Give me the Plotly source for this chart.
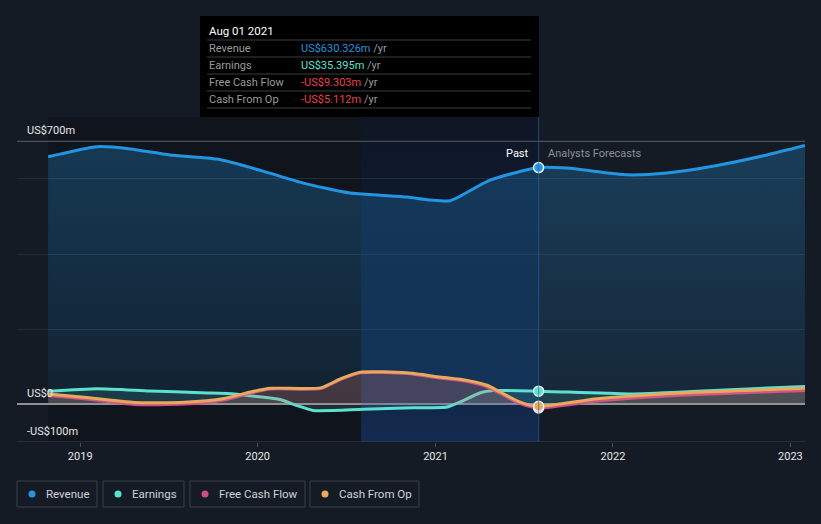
import plotly.graph_objects as go

# ---------------- data ----------------
rev_dates = ["2018-10-27", "2019-02-05", "2019-04-14", "2019-07-05", "2019-10-10",
             "2020-01-12", "2020-04-04", "2020-07-09", "2020-09-09", "2020-11-03",
             "2020-12-21", "2021-01-31", "2021-04-23", "2021-08-01", "2021-09-28",
             "2022-01-30", "2022-04-22", "2022-08-03", "2022-11-14", "2023-01-31"]
rev_vals = [659, 686, 680, 664, 653, 621, 589, 563, 557, 552,
            544, 542, 597, 630.326, 629, 611, 616, 636, 664, 689]

earn_dates = ["2018-10-27", "2019-02-05", "2019-05-24", "2019-09-07", "2019-11-15",
              "2019-12-31", "2020-02-16", "2020-03-22", "2020-04-24", "2020-08-05",
              "2020-11-16", "2021-01-25", "2021-02-20", "2021-04-03", "2021-04-29",
              "2021-08-01", "2022-02-05", "2022-06-23", "2023-01-31"]
earn_vals = [35, 42, 36, 31, 28, 21, 13, -3, -16, -13,
             -9, -7, 6, 31, 37, 35.395, 28, 35, 48]

cf_dates = ["2018-10-27", "2019-01-09", "2019-04-22", "2019-08-03", "2019-10-24",
            "2019-12-17", "2020-01-27", "2020-05-09", "2020-06-19", "2020-07-30",
            "2020-11-03", "2021-01-10", "2021-03-07", "2021-04-17", "2021-05-14",
            "2021-06-24", "2021-08-01", "2021-11-29", "2022-04-14", "2023-01-31"]
cfo_vals = [28, 19, 5, 6, 16, 33, 43, 44, 68, 86,
            84, 73, 64, 51, 33, 6, -5.112, 15, 28, 43]
fcf_vals = [24, 15, 0, 1, 12, 30, 41, 42, 66, 84,
            82, 70, 61, 47, 29, 2, -9.303, 9, 22, 37]

year_ticks = ["2019-01-01", "2020-01-01", "2021-01-01", "2022-01-01", "2023-01-01"]
year_labels = ["2019", "2020", "2021", "2022", "2023"]

data_start = "2018-10-27"
past_end = "2021-08-01"
last_year_start = "2020-08-01"
x_range = ["2018-08-24", "2023-01-31"]
y_range = [-100, 765]

tooltip_title = "Aug 01 2021"
tooltip_rows = [("Revenue", "US$630.326m", "#2394df"),
                ("Earnings", "US$35.395m", "#5fe3cf"),
                ("Free Cash Flow", "-US$9.303m", "#e8414a"),
                ("Cash From Op", "-US$5.112m", "#e8414a")]

legend_items = [("Revenue", "#2394df"), ("Earnings", "#5ce0cf"),
                ("Free Cash Flow", "#cf4a8a"), ("Cash From Op", "#e8a95c")]

# ---------------- colours ----------------
BG = "#151b25"
C_REV = "#2394df"
C_EARN = "#5ce0cf"
C_FCF = "#cf4a8a"
C_CFO = "#e8a95c"
FONT = "Roboto"

W, H = 821, 524
ML, MR, MT, MB = 17, 16, 117, 82
PW, PH = W - ML - MR, H - MT - MB


def px(xp):
    return (xp - ML) / PW


def py(yp):
    return (H - MB - yp) / PH


fig = go.Figure()

# last-year highlight (gradient)
fig.add_trace(go.Scatter(
    x=[last_year_start, past_end, past_end, last_year_start, last_year_start],
    y=[y_range[0], y_range[0], y_range[1], y_range[1], y_range[0]],
    mode="lines", line=dict(width=0), fill="toself",
    fillgradient=dict(type="vertical",
                      colorscale=[[0, "rgba(25,95,200,0.30)"], [1, "rgba(5,30,90,0.14)"]]),
    hoverinfo="skip", showlegend=False))

# revenue
fig.add_trace(go.Scatter(
    x=rev_dates, y=rev_vals, mode="lines",
    line=dict(color=C_REV, width=3, shape="spline", smoothing=0.6),
    fill="tozeroy",
    fillgradient=dict(type="vertical",
                      colorscale=[[0, "rgba(35,148,223,0.10)"], [1, "rgba(35,148,223,0.28)"]]),
    hoverinfo="skip", showlegend=False))

# earnings
fig.add_trace(go.Scatter(
    x=earn_dates, y=earn_vals, mode="lines",
    line=dict(color=C_EARN, width=3, shape="spline", smoothing=0.6),
    fill="tozeroy", fillcolor="rgba(92,224,207,0.13)",
    hoverinfo="skip", showlegend=False))

# free cash flow
fig.add_trace(go.Scatter(
    x=cf_dates, y=fcf_vals, mode="lines",
    line=dict(color=C_FCF, width=3, shape="spline", smoothing=0.6),
    fill="tozeroy", fillcolor="rgba(207,74,138,0.13)",
    hoverinfo="skip", showlegend=False))

# cash from op
fig.add_trace(go.Scatter(
    x=cf_dates, y=cfo_vals, mode="lines",
    line=dict(color=C_CFO, width=3, shape="spline", smoothing=0.6),
    fill="tozeroy", fillcolor="rgba(232,169,92,0.13)",
    hoverinfo="skip", showlegend=False))

# markers at the "past" boundary
i_rev = rev_dates.index(past_end)
i_earn = earn_dates.index(past_end)
i_cf = cf_dates.index(past_end)
for val, col in [(rev_vals[i_rev], C_REV), (earn_vals[i_earn], C_EARN),
                 (fcf_vals[i_cf], C_FCF), (cfo_vals[i_cf], C_CFO)]:
    fig.add_trace(go.Scatter(
        x=[past_end], y=[val], mode="markers",
        marker=dict(color=col, size=10, line=dict(color="#e8eef5", width=1.5)),
        hoverinfo="skip", showlegend=False))

shapes = []
# dark overlay over the past region
shapes.append(dict(type="rect", xref="x", yref="paper", x0=data_start, x1=past_end,
                   y0=0, y1=1, fillcolor="rgba(0,0,0,0.2)", line=dict(width=0), layer="below"))
# vertical past line
shapes.append(dict(type="line", xref="x", yref="paper", x0=past_end, x1=past_end,
                   y0=0, y1=1, line=dict(color="rgba(45,100,170,0.6)", width=1)))
# top (700) and bottom (-100) lines
shapes.append(dict(type="line", xref="paper", yref="y", x0=0, x1=1, y0=700, y1=700,
                   line=dict(color="#4a4f58", width=1.2), layer="below"))
shapes.append(dict(type="line", xref="paper", yref="y", x0=0, x1=1, y0=-100, y1=-100,
                   line=dict(color="#3d434d", width=1.2)))

annotations = []
# y labels
for val, txt in [(700, "US$700m"), (0, "US$0"), (-100, "-US$100m")]:
    annotations.append(dict(xref="paper", yref="y", x=px(25), y=val, text=txt,
                            xanchor="left", yanchor="bottom", yshift=2, showarrow=False,
                            font=dict(family=FONT, size=11, color="#e6e6e6")))

# Past / Analysts Forecasts
annotations.append(dict(xref="x", yref="paper", x=past_end, y=py(153), text="Past",
                        xanchor="right", yanchor="middle", xshift=-8, showarrow=False,
                        font=dict(family=FONT, size=11, color="#ffffff")))
annotations.append(dict(xref="x", yref="paper", x=past_end, y=py(153), text="Analysts Forecasts",
                        xanchor="left", yanchor="middle", xshift=7, showarrow=False,
                        font=dict(family=FONT, size=11, color="#8b9098")))

# tooltip
shapes.append(dict(type="rect", xref="paper", yref="paper", x0=px(200), x1=px(539),
                   y0=py(117), y1=py(16), fillcolor="#000000", line=dict(width=0)))
annotations.append(dict(xref="paper", yref="paper", x=px(207), y=py(31), text=tooltip_title,
                        xanchor="left", yanchor="middle", showarrow=False,
                        font=dict(family=FONT, size=11.5, color="#ffffff")))
for k in range(5):
    ys = 40 + 17 * k
    shapes.append(dict(type="line", xref="paper", yref="paper", x0=px(207), x1=px(531),
                       y0=py(ys), y1=py(ys), line=dict(color="#3c3c3c", width=1)))
for k, (lab, val, col) in enumerate(tooltip_rows):
    yc = 48.5 + 17 * k
    annotations.append(dict(xref="paper", yref="paper", x=px(207), y=py(yc), text=lab,
                            xanchor="left", yanchor="middle", showarrow=False,
                            font=dict(family=FONT, size=11, color="#9a9a9a")))
    annotations.append(dict(xref="paper", yref="paper", x=px(299), y=py(yc),
                            text=f"<span style='color:{col}'>{val}</span> /yr",
                            xanchor="left", yanchor="middle", showarrow=False,
                            font=dict(family=FONT, size=11, color="#9a9a9a")))

# custom legend boxes
box_x = [(17, 97), (103, 184), (190, 305), (310, 419)]
for (lab, col), (x0, x1) in zip(legend_items, box_x):
    shapes.append(dict(type="rect", xref="paper", yref="paper", x0=px(x0), x1=px(x1),
                       y0=py(507), y1=py(481), line=dict(color="#3b414b", width=1),
                       fillcolor="rgba(0,0,0,0)"))
    shapes.append(dict(type="circle", xref="paper", yref="paper",
                       x0=px(x0 + 11.5), x1=px(x0 + 18.5), y0=py(497.5), y1=py(490.5),
                       fillcolor=col, line=dict(width=0)))
    annotations.append(dict(xref="paper", yref="paper", x=px(x0 + 27), y=py(494), text=lab,
                            xanchor="left", yanchor="middle", showarrow=False,
                            font=dict(family=FONT, size=11.5, color="#d0d3d8")))

fig.update_layout(
    width=W, height=H,
    margin=dict(l=ML, r=MR, t=MT, b=MB),
    paper_bgcolor=BG, plot_bgcolor=BG,
    showlegend=False,
    shapes=shapes, annotations=annotations,
    font=dict(family=FONT),
    xaxis=dict(range=x_range, type="date", showgrid=False, zeroline=False,
               tickvals=year_ticks, ticktext=year_labels,
               ticks="outside", ticklen=4, tickcolor="#4a4f58",
               tickfont=dict(family=FONT, size=11, color="#e6e6e6"),
               showline=False, fixedrange=True),
    yaxis=dict(range=y_range, tickvals=[0, 200, 400, 600], showticklabels=False,
               showgrid=True, gridcolor="#232b37", gridwidth=1,
               zeroline=True, zerolinecolor="#8e9096", zerolinewidth=2,
               fixedrange=True),
)

fig.write_html("out.html", config={"displayModeBar": False},
               post_script="document.body.style.margin='0';document.body.style.background='%s';" % BG)
